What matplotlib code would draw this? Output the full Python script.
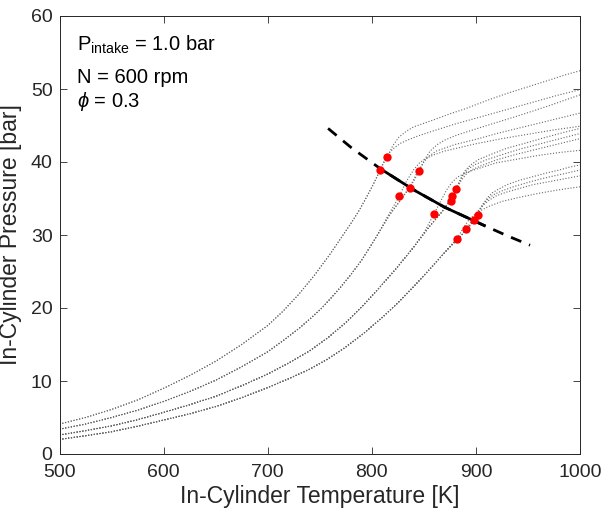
import matplotlib
matplotlib.use("Agg")
import matplotlib.pyplot as plt

# ---------------- data ----------------
# group compression paths (shared part of each bundle)
g1_T = [500, 525, 550, 575, 600, 625, 650, 675, 700, 715, 730, 745, 760, 770, 780, 788, 795, 802, 808]
g1_P = [4.1, 5.0, 6.1, 7.4, 9.0, 10.75, 12.7, 15.0, 17.6, 19.6, 21.9, 24.5, 27.4, 29.5, 31.6, 33.4, 35.2, 37.1, 38.9]
g2_T = [500, 525, 550, 575, 600, 625, 650, 675, 700, 715, 730, 741, 752, 761, 770, 780, 790, 798, 805]
g2_P = [3.4, 4.1, 5.0, 6.0, 7.2, 8.55, 10.1, 11.95, 14.0, 15.55, 17.2, 18.55, 20.0, 21.4, 22.85, 24.6, 26.5, 28.3, 29.9]
g3_T = [500, 525, 550, 575, 600, 625, 650, 675, 700, 720, 740, 758, 775, 792, 808, 824, 840]
g3_P = [2.6, 3.2, 3.85, 4.7, 5.7, 6.75, 7.9, 9.35, 10.95, 12.45, 14.1, 15.95, 18.0, 20.4, 22.9, 25.5, 28.3]
g4_T = [500, 525, 550, 575, 600, 625, 650, 675, 700, 720, 740, 757, 773, 792, 810, 825, 840, 853, 865]
g4_P = [2.0, 2.5, 3.05, 3.8, 4.65, 5.5, 6.5, 7.7, 9.1, 10.3, 11.6, 12.95, 14.45, 16.5, 18.7, 20.7, 22.9, 24.9, 26.8]

# individual branches after the shared part
c1a_T = [812, 815, 820, 826, 833, 840, 850, 860, 875, 890, 910, 930, 950, 970, 985, 1000]
c1a_P = [40.0, 40.7, 42.2, 43.4, 44.2, 44.8, 45.3, 45.8, 46.6, 47.3, 48.4, 49.4, 50.3, 51.2, 51.9, 52.5]
c1b_T = [812, 817, 822, 828, 836, 845, 860, 880, 900, 920, 940, 960, 980, 1000]
c1b_P = [40.2, 41.3, 42.0, 42.6, 43.1, 43.6, 44.3, 45.2, 46.0, 46.8, 47.6, 48.4, 49.2, 49.9]

c2a_T = [818, 830, 840, 845.7, 851, 856, 863, 870, 882, 895, 915, 940, 970, 1000]
c2a_P = [32.9, 35.3, 37.3, 38.8, 40.4, 41.5, 42.4, 43.0, 43.7, 44.3, 45.2, 46.3, 47.7, 49.2]
c2b_T = [817, 828, 836.3, 843, 850, 855, 862, 870, 880, 900, 920, 940, 960, 980, 1000]
c2b_P = [32.8, 34.8, 36.5, 38.4, 40.0, 40.8, 41.5, 41.9, 42.4, 43.1, 43.9, 44.6, 45.3, 46.0, 46.7]
c2c_T = [815, 826.4, 833, 840, 846, 852, 860, 870, 885, 900, 925, 950, 975, 1000]
c2c_P = [32.5, 35.3, 37.3, 38.9, 39.9, 40.5, 41.0, 41.5, 42.0, 42.5, 43.2, 43.8, 44.4, 44.9]

c3a_T = [855, 868, 876, 881.3, 886, 890, 895, 902, 912, 930, 948, 965, 983, 1000]
c3a_P = [31.1, 33.3, 34.9, 36.3, 37.9, 38.9, 39.6, 40.3, 40.9, 41.9, 42.6, 43.3, 44.0, 44.6]
c3b_T = [855, 867, 877.4, 883, 888, 893, 900, 910, 925, 943, 962, 981, 1000]
c3b_P = [31.1, 33.1, 35.3, 37.0, 38.3, 39.1, 39.7, 40.3, 41.0, 41.8, 42.5, 43.2, 43.9]
c3c_T = [855, 866, 875.8, 881, 886, 891, 897, 907, 920, 940, 960, 980, 1000]
c3c_P = [31.1, 32.9, 34.7, 36.2, 37.5, 38.4, 39.0, 39.6, 40.3, 41.1, 41.8, 42.5, 43.2]
c3d_T = [850, 859.8, 866, 872, 877, 882, 890, 900, 920, 940, 960, 980, 1000]
c3d_P = [30.3, 32.9, 34.6, 36.2, 37.2, 37.9, 38.5, 39.0, 39.9, 40.4, 40.9, 41.3, 41.6]

c4a_T = [876, 886, 894, 902.1, 907, 911, 916, 922, 930, 942, 955, 968, 980, 990, 1000]
c4a_P = [28.5, 29.9, 31.2, 32.8, 34.2, 35.1, 35.8, 36.3, 36.9, 37.5, 38.0, 38.5, 38.9, 39.3, 39.6]
c4b_T = [876, 885, 892, 897.9, 903, 907, 912, 918, 926, 938, 950, 963, 975, 988, 1000]
c4b_P = [28.5, 29.8, 30.9, 32.0, 33.4, 34.3, 35.0, 35.6, 36.1, 36.7, 37.2, 37.7, 38.1, 38.5, 38.9]
c4c_T = [875, 883, 890.9, 897, 902, 907, 913, 920, 930, 940, 955, 970, 985, 1000]
c4c_P = [28.4, 29.5, 30.8, 32.2, 33.3, 34.1, 34.8, 35.4, 35.9, 36.3, 36.9, 37.3, 37.7, 38.1]
c4d_T = [874, 881.9, 888, 893, 898, 904, 912, 925, 940, 960, 980, 1000]
c4d_P = [28.3, 29.5, 31.0, 32.0, 32.7, 33.3, 33.9, 34.6, 35.1, 35.7, 36.2, 36.6]

# ignition points
dot_T = [814.6, 808.2, 845.7, 836.3, 826.4, 881.3, 877.4, 875.8, 859.8,
         902.1, 897.9, 890.9, 881.9]
dot_P = [40.7, 38.9, 38.8, 36.5, 35.3, 36.3, 35.3, 34.7, 32.9,
         32.8, 32.0, 30.8, 29.5]

# fit line (dashed over full range, solid over data range)
fit_T = [758, 780, 808, 840, 870, 908, 930, 952]
fit_P = [44.6, 42.0, 39.1, 36.2, 33.8, 31.3, 29.9, 28.6]
solid_T = [808, 840, 870, 908]
solid_P = [39.1, 36.2, 33.8, 31.3]

x_ticks = [500, 600, 700, 800, 900, 1000]
y_ticks = [0, 10, 20, 30, 40, 50, 60]

# ---------------- styling ----------------
plt.rcParams['font.family'] = ['Liberation Sans', 'DejaVu Sans']
plt.rcParams['mathtext.fontset'] = 'custom'
plt.rcParams['mathtext.rm'] = 'Liberation Sans'
plt.rcParams['mathtext.it'] = 'Liberation Sans:italic'

fig = plt.figure(figsize=(6.04, 5.12), dpi=100)
ax = fig.add_axes([59.5 / 604, 58 / 512, (580 - 59.5) / 604, (454 - 16) / 512])

curves = [
    (g1_T + c1a_T, g1_P + c1a_P), (g1_T + c1b_T, g1_P + c1b_P),
    (g2_T + c2a_T, g2_P + c2a_P), (g2_T + c2b_T, g2_P + c2b_P),
    (g2_T + c2c_T, g2_P + c2c_P),
    (g3_T + c3a_T, g3_P + c3a_P), (g3_T + c3b_T, g3_P + c3b_P),
    (g3_T + c3c_T, g3_P + c3c_P), (g3_T + c3d_T, g3_P + c3d_P),
    (g4_T + c4a_T, g4_P + c4a_P), (g4_T + c4b_T, g4_P + c4b_P),
    (g4_T + c4c_T, g4_P + c4c_P), (g4_T + c4d_T, g4_P + c4d_P),
]
for T, P in curves:
    ax.plot(T, P, color='0.4', lw=0.8, linestyle=(0, (1, 1.6)), zorder=2)

ax.plot(fit_T, fit_P, color='black', lw=2.0, linestyle=(0, (4, 3)), zorder=3)
ax.plot(solid_T, solid_P, color='black', lw=2.0, zorder=3)
ax.plot(dot_T, dot_P, 'o', color='red', markersize=6, markeredgewidth=0, zorder=4)

ax.set_xlim(500, 1000)
ax.set_ylim(0, 60)
ax.set_xticks(x_ticks)
ax.set_yticks(y_ticks)
ax.tick_params(direction='in', length=5, width=0.6, top=True, right=True,
               labelsize=14, colors='#262626')
ax.tick_params(axis='x', pad=7)
ax.tick_params(axis='y', pad=5)
for s in ax.spines.values():
    s.set_color('#262626')
    s.set_linewidth(0.7)

ax.set_xlabel('In-Cylinder Temperature [K]', fontsize=16.5, color='#262626', labelpad=3)
ax.set_ylabel('In-Cylinder Pressure [bar]', fontsize=16.5, color='#262626', labelpad=6)

ax.text(516.8, 55.3, r'P$_{\mathrm{intake}}$ = 1.0 bar', fontsize=14.5, va='baseline', ha='left')
ax.text(516.8, 50.8, 'N = 600 rpm', fontsize=14.5, va='baseline', ha='left')
ax.text(516.8, 47.6, r'$\phi$ = 0.3', fontsize=14.5, va='baseline', ha='left')

fig.savefig('out.png', dpi=100)
